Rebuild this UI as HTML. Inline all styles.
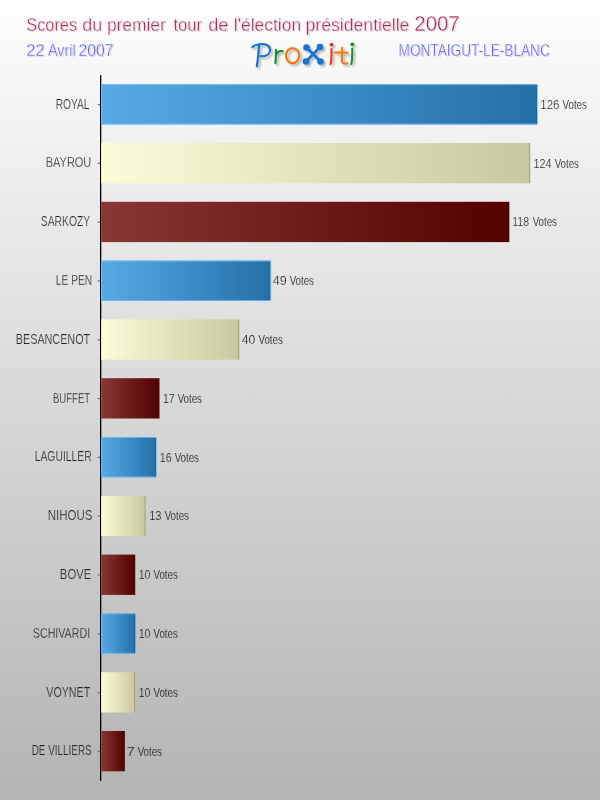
<!DOCTYPE html><html><head><meta charset="utf-8"><style>html,body{margin:0;padding:0;width:600px;height:800px;overflow:hidden;background:#d8d8d8}svg{display:block}text{font-family:"Liberation Sans",sans-serif;-webkit-font-smoothing:antialiased}</style></head><body>
<svg width="600" height="800" viewBox="0 0 600 800">
<defs>
<linearGradient id="bg" x1="0" y1="0" x2="0" y2="1"><stop offset="0" stop-color="#fefefe"/><stop offset="1" stop-color="#b3b3b3"/></linearGradient>
<linearGradient id="gB" x1="0" y1="0" x2="1" y2="0"><stop offset="0" stop-color="#58aae4"/><stop offset="1" stop-color="#2470a8"/></linearGradient>
<linearGradient id="gC" x1="0" y1="0" x2="1" y2="0"><stop offset="0" stop-color="#fcfcd8"/><stop offset="1" stop-color="#c8c8a0"/></linearGradient>
<linearGradient id="gR" x1="0" y1="0" x2="1" y2="0"><stop offset="0" stop-color="#883636"/><stop offset="1" stop-color="#520000"/></linearGradient>
<filter id="blur1" x="-5%" y="-50%" width="110%" height="200%"><feGaussianBlur stdDeviation="0.7"/></filter>
<filter id="lsh" x="-20%" y="-20%" width="150%" height="150%"><feGaussianBlur in="SourceAlpha" stdDeviation="1"/><feOffset dx="2" dy="2"/><feComponentTransfer><feFuncA type="linear" slope="0.3"/></feComponentTransfer><feMerge><feMergeNode/><feMergeNode in="SourceGraphic"/></feMerge></filter>
</defs>
<rect x="0" y="0" width="600" height="800" fill="url(#bg)"/>
<g opacity="0.999">
<g filter="url(#blur1)" opacity="0.12" transform="translate(1.2,1.2)">
<text transform="translate(26.26,31.00) scale(0.8828,1)" font-size="18.5" fill="#000">Scores</text>
<text transform="translate(82.25,31.00) scale(0.9692,1)" font-size="18.5" fill="#000">du</text>
<text transform="translate(106.88,31.00) scale(0.9394,1)" font-size="18.5" fill="#000">premier</text>
<text transform="translate(173.45,31.00) scale(0.8948,1)" font-size="18.5" fill="#000">tour</text>
<text transform="translate(208.23,31.00) scale(0.9853,1)" font-size="18.5" fill="#000">de</text>
<text transform="translate(233.82,31.00) scale(0.9426,1)" font-size="18.5" fill="#000">l&#39;élection</text>
<text transform="translate(305.56,31.00) scale(0.9533,1)" font-size="18.5" fill="#000">présidentielle</text>
<text transform="translate(414.27,31.00) scale(0.9504,1)" font-size="21.5" fill="#000">2007</text>
<text transform="translate(26.36,56.00) scale(0.9543,1)" font-size="17.4" fill="#000">22</text>
<text transform="translate(47.97,56.00) scale(0.8243,1)" font-size="17.4" fill="#000">Avril</text>
<text transform="translate(78.40,56.00) scale(0.9091,1)" font-size="17.4" fill="#000">2007</text>
<text transform="translate(398.58,55.60) scale(0.8517,1)" font-size="16" fill="#000">MONTAIGUT-LE-BLANC</text>
</g>
<text transform="translate(26.26,31.00) scale(0.8828,1)" font-size="18.5" fill="#b02c60" stroke="#fcfcfc" stroke-width="0.3">Scores</text>
<text transform="translate(82.25,31.00) scale(0.9692,1)" font-size="18.5" fill="#b02c60" stroke="#fcfcfc" stroke-width="0.3">du</text>
<text transform="translate(106.88,31.00) scale(0.9394,1)" font-size="18.5" fill="#b02c60" stroke="#fcfcfc" stroke-width="0.3">premier</text>
<text transform="translate(173.45,31.00) scale(0.8948,1)" font-size="18.5" fill="#b02c60" stroke="#fcfcfc" stroke-width="0.3">tour</text>
<text transform="translate(208.23,31.00) scale(0.9853,1)" font-size="18.5" fill="#b02c60" stroke="#fcfcfc" stroke-width="0.3">de</text>
<text transform="translate(233.82,31.00) scale(0.9426,1)" font-size="18.5" fill="#b02c60" stroke="#fcfcfc" stroke-width="0.3">l&#39;élection</text>
<text transform="translate(305.56,31.00) scale(0.9533,1)" font-size="18.5" fill="#b02c60" stroke="#fcfcfc" stroke-width="0.3">présidentielle</text>
<text transform="translate(414.27,31.00) scale(0.9504,1)" font-size="21.5" fill="#b02c60" stroke="#fcfcfc" stroke-width="0.3">2007</text>
<text transform="translate(26.36,56.00) scale(0.9543,1)" font-size="17.4" fill="#5a5afa" stroke="#f9f9f9" stroke-width="0.32">22</text>
<text transform="translate(47.97,56.00) scale(0.8243,1)" font-size="17.4" fill="#5a5afa" stroke="#f9f9f9" stroke-width="0.32">Avril</text>
<text transform="translate(78.40,56.00) scale(0.9091,1)" font-size="17.4" fill="#5a5afa" stroke="#f9f9f9" stroke-width="0.32">2007</text>
<text transform="translate(398.58,55.60) scale(0.8517,1)" font-size="16" fill="#5a5afa" stroke="#f9f9f9" stroke-width="0.32">MONTAIGUT-LE-BLANC</text>
<g filter="url(#lsh)" fill="none" stroke-linecap="round" stroke-linejoin="round">
<path d="M252.5,47.3 C254.5,44.8 257.5,44 262.5,44 C267.5,44 270.5,47 270.1,50.5 C269.6,54.5 265.5,56.6 260.5,56.2" stroke="#1270d8" stroke-width="2.2"/>
<path d="M259,45 C258.6,52 257.9,60 256.8,66.5" stroke="#1270d8" stroke-width="2.2"/>
<path d="M276,49.8 C276,54 275.8,59 275.4,63.2" stroke="#1a8a30" stroke-width="2.1"/>
<path d="M276,55.5 C277.3,51.8 279.8,50.2 282.6,51.3" stroke="#1a8a30" stroke-width="2.1"/>
<ellipse cx="292.6" cy="55.6" rx="6.6" ry="7.5" stroke="#f07a10" stroke-width="2.2"/>
<path d="M306.5,47.5 L320.5,61.5 M320,47 L306,61.5" stroke="#1a70d0" stroke-width="2.7"/>
<circle cx="306.5" cy="47.5" r="3.3" fill="#1a70d0"/><circle cx="320" cy="47" r="3.3" fill="#1a70d0"/>
<circle cx="306" cy="61.5" r="3.3" fill="#1a70d0"/><circle cx="320.5" cy="61.5" r="3.3" fill="#1a70d0"/>
<circle cx="331.5" cy="44.7" r="1.9" fill="#e83010"/>
<path d="M331.5,49 C331.7,56 331.5,61 330.5,64" stroke="#e83010" stroke-width="2"/>
<path d="M342.2,47.7 C341.9,53 341.6,58 341.9,61.3 C342.6,63.4 345,63.8 347.5,63.3" stroke="#f07a10" stroke-width="2.1"/>
<path d="M335.3,52.6 C339,52.3 344,52.4 347.7,52.7" stroke="#f07a10" stroke-width="2.1"/>
<circle cx="352.3" cy="44.3" r="1.9" fill="#1a8a30"/>
<path d="M352.2,48.5 C352.4,55 352.2,60.5 351.3,64" stroke="#1a8a30" stroke-width="2"/>
</g>
<rect x="100" y="75" width="1.3" height="706" fill="#000"/>
<rect x="101.20" y="84.20" width="435.86" height="40.3" fill="url(#gB)"/>
<path d="M101.70,84.70 H537.56 V124.00 H101.70 Z" fill="none" stroke="#6cc2ff" stroke-width="1" opacity="0.75"/>
<rect x="536.06" y="85.20" width="1" height="38.3" fill="#1a5a90" opacity="0.6"/>
<rect x="97.8" y="103.95" width="2.4" height="1.3" fill="#6a6a6a"/>
<text transform="translate(55.66,108.55) scale(0.7055,1)" font-size="14.5" fill="#262626" stroke="#f4f4f4" stroke-width="0.25">ROYAL</text>
<text transform="translate(540.32,108.75) scale(0.8709,1)" font-size="13.2" fill="#1e1e1e" stroke="#f4f4f4" stroke-width="0.2">126</text>
<text transform="translate(562.56,108.75) scale(0.7375,1)" font-size="13.2" fill="#1e1e1e" stroke="#f4f4f4" stroke-width="0.15">Votes</text>
<rect x="101.20" y="143.00" width="428.94" height="40.3" fill="url(#gC)"/>
<rect x="529.04" y="143.00" width="1.1" height="40.3" fill="#a0a078" opacity="0.8"/>
<rect x="97.8" y="162.75" width="2.4" height="1.3" fill="#6a6a6a"/>
<text transform="translate(45.80,167.35) scale(0.7569,1)" font-size="14.5" fill="#262626" stroke="#efefef" stroke-width="0.25">BAYROU</text>
<text transform="translate(533.38,167.55) scale(0.8191,1)" font-size="13.2" fill="#1e1e1e" stroke="#efefef" stroke-width="0.2">124</text>
<text transform="translate(554.66,167.55) scale(0.7375,1)" font-size="13.2" fill="#1e1e1e" stroke="#efefef" stroke-width="0.15">Votes</text>
<rect x="101.20" y="201.80" width="408.15" height="40.3" fill="url(#gR)"/>
<rect x="97.8" y="221.55" width="2.4" height="1.3" fill="#6a6a6a"/>
<text transform="translate(40.73,226.15) scale(0.7143,1)" font-size="14.5" fill="#262626" stroke="#e9e9e9" stroke-width="0.25">SARKOZY</text>
<text transform="translate(512.20,226.35) scale(0.8000,1)" font-size="13.2" fill="#1e1e1e" stroke="#e9e9e9" stroke-width="0.2">118</text>
<text transform="translate(532.66,226.35) scale(0.7375,1)" font-size="13.2" fill="#1e1e1e" stroke="#e9e9e9" stroke-width="0.15">Votes</text>
<rect x="101.20" y="260.60" width="169.14" height="40.3" fill="url(#gB)"/>
<path d="M101.70,261.10 H270.84 V300.40 H101.70 Z" fill="none" stroke="#6cc2ff" stroke-width="1" opacity="0.75"/>
<rect x="269.34" y="261.60" width="1" height="38.3" fill="#1a5a90" opacity="0.6"/>
<rect x="97.8" y="280.35" width="2.4" height="1.3" fill="#6a6a6a"/>
<text transform="translate(55.86,284.95) scale(0.7032,1)" font-size="14.5" fill="#262626" stroke="#e4e4e4" stroke-width="0.25">LE PEN</text>
<text transform="translate(272.71,285.15) scale(0.9524,1)" font-size="13.2" fill="#1e1e1e" stroke="#e4e4e4" stroke-width="0.2">49</text>
<text transform="translate(289.66,285.15) scale(0.7375,1)" font-size="13.2" fill="#1e1e1e" stroke="#e4e4e4" stroke-width="0.15">Votes</text>
<rect x="101.20" y="319.40" width="137.96" height="40.3" fill="url(#gC)"/>
<rect x="238.06" y="319.40" width="1.1" height="40.3" fill="#a0a078" opacity="0.8"/>
<rect x="97.8" y="339.15" width="2.4" height="1.3" fill="#6a6a6a"/>
<text transform="translate(15.81,343.75) scale(0.7450,1)" font-size="14.5" fill="#262626" stroke="#dedede" stroke-width="0.25">BESANCENOT</text>
<text transform="translate(241.72,343.95) scale(0.9305,1)" font-size="13.2" fill="#1e1e1e" stroke="#dedede" stroke-width="0.2">40</text>
<text transform="translate(258.46,343.95) scale(0.7375,1)" font-size="13.2" fill="#1e1e1e" stroke="#dedede" stroke-width="0.15">Votes</text>
<rect x="101.20" y="378.20" width="58.29" height="40.3" fill="url(#gR)"/>
<rect x="97.8" y="397.95" width="2.4" height="1.3" fill="#6a6a6a"/>
<text transform="translate(52.91,402.55) scale(0.6616,1)" font-size="14.5" fill="#262626" stroke="#d9d9d9" stroke-width="0.25">BUFFET</text>
<text transform="translate(162.90,402.75) scale(0.8000,1)" font-size="13.2" fill="#1e1e1e" stroke="#d9d9d9" stroke-width="0.2">17</text>
<text transform="translate(177.66,402.75) scale(0.7375,1)" font-size="13.2" fill="#1e1e1e" stroke="#d9d9d9" stroke-width="0.15">Votes</text>
<rect x="101.20" y="437.00" width="54.82" height="40.3" fill="url(#gB)"/>
<path d="M101.70,437.50 H156.52 V476.80 H101.70 Z" fill="none" stroke="#6cc2ff" stroke-width="1" opacity="0.75"/>
<rect x="155.02" y="438.00" width="1" height="38.3" fill="#1a5a90" opacity="0.6"/>
<rect x="97.8" y="456.75" width="2.4" height="1.3" fill="#6a6a6a"/>
<text transform="translate(34.65,461.35) scale(0.7161,1)" font-size="14.5" fill="#262626" stroke="#d3d3d3" stroke-width="0.25">LAGUILLER</text>
<text transform="translate(159.69,461.55) scale(0.8094,1)" font-size="13.2" fill="#1e1e1e" stroke="#d3d3d3" stroke-width="0.2">16</text>
<text transform="translate(174.66,461.55) scale(0.7375,1)" font-size="13.2" fill="#1e1e1e" stroke="#d3d3d3" stroke-width="0.15">Votes</text>
<rect x="101.20" y="495.80" width="44.43" height="40.3" fill="url(#gC)"/>
<rect x="144.53" y="495.80" width="1.1" height="40.3" fill="#a0a078" opacity="0.8"/>
<rect x="97.8" y="515.55" width="2.4" height="1.3" fill="#6a6a6a"/>
<text transform="translate(47.76,520.15) scale(0.7939,1)" font-size="14.5" fill="#262626" stroke="#cecece" stroke-width="0.25">NIHOUS</text>
<text transform="translate(149.15,520.35) scale(0.8475,1)" font-size="13.2" fill="#1e1e1e" stroke="#cecece" stroke-width="0.2">13</text>
<text transform="translate(164.66,520.35) scale(0.7375,1)" font-size="13.2" fill="#1e1e1e" stroke="#cecece" stroke-width="0.15">Votes</text>
<rect x="101.20" y="554.60" width="34.04" height="40.3" fill="url(#gR)"/>
<rect x="97.8" y="574.35" width="2.4" height="1.3" fill="#6a6a6a"/>
<text transform="translate(59.87,578.95) scale(0.7796,1)" font-size="14.5" fill="#262626" stroke="#c8c8c8" stroke-width="0.25">BOVE</text>
<text transform="translate(138.70,579.15) scale(0.8000,1)" font-size="13.2" fill="#1e1e1e" stroke="#c8c8c8" stroke-width="0.2">10</text>
<text transform="translate(153.46,579.15) scale(0.7375,1)" font-size="13.2" fill="#1e1e1e" stroke="#c8c8c8" stroke-width="0.15">Votes</text>
<rect x="101.20" y="613.40" width="34.04" height="40.3" fill="url(#gB)"/>
<path d="M101.70,613.90 H135.74 V653.20 H101.70 Z" fill="none" stroke="#6cc2ff" stroke-width="1" opacity="0.75"/>
<rect x="134.24" y="614.40" width="1" height="38.3" fill="#1a5a90" opacity="0.6"/>
<rect x="97.8" y="633.15" width="2.4" height="1.3" fill="#6a6a6a"/>
<text transform="translate(32.81,637.75) scale(0.7367,1)" font-size="14.5" fill="#262626" stroke="#c3c3c3" stroke-width="0.25">SCHIVARDI</text>
<text transform="translate(138.70,637.95) scale(0.8000,1)" font-size="13.2" fill="#1e1e1e" stroke="#c3c3c3" stroke-width="0.2">10</text>
<text transform="translate(153.46,637.95) scale(0.7375,1)" font-size="13.2" fill="#1e1e1e" stroke="#c3c3c3" stroke-width="0.15">Votes</text>
<rect x="101.20" y="672.20" width="34.04" height="40.3" fill="url(#gC)"/>
<rect x="134.14" y="672.20" width="1.1" height="40.3" fill="#a0a078" opacity="0.8"/>
<rect x="97.8" y="691.95" width="2.4" height="1.3" fill="#6a6a6a"/>
<text transform="translate(46.25,696.55) scale(0.7379,1)" font-size="14.5" fill="#262626" stroke="#bdbdbd" stroke-width="0.25">VOYNET</text>
<text transform="translate(138.70,696.75) scale(0.8000,1)" font-size="13.2" fill="#1e1e1e" stroke="#bdbdbd" stroke-width="0.2">10</text>
<text transform="translate(153.46,696.75) scale(0.7375,1)" font-size="13.2" fill="#1e1e1e" stroke="#bdbdbd" stroke-width="0.15">Votes</text>
<rect x="101.20" y="731.00" width="23.65" height="40.3" fill="url(#gR)"/>
<rect x="97.8" y="750.75" width="2.4" height="1.3" fill="#6a6a6a"/>
<text transform="translate(31.69,755.35) scale(0.6838,1)" font-size="14.5" fill="#262626" stroke="#b8b8b8" stroke-width="0.25">DE VILLIERS</text>
<text transform="translate(126.42,755.55) scale(1.1499,1)" font-size="13.2" fill="#1e1e1e" stroke="#b8b8b8" stroke-width="0.2">7</text>
<text transform="translate(137.66,755.55) scale(0.7375,1)" font-size="13.2" fill="#1e1e1e" stroke="#b8b8b8" stroke-width="0.15">Votes</text>
</g>
</svg></body></html>
